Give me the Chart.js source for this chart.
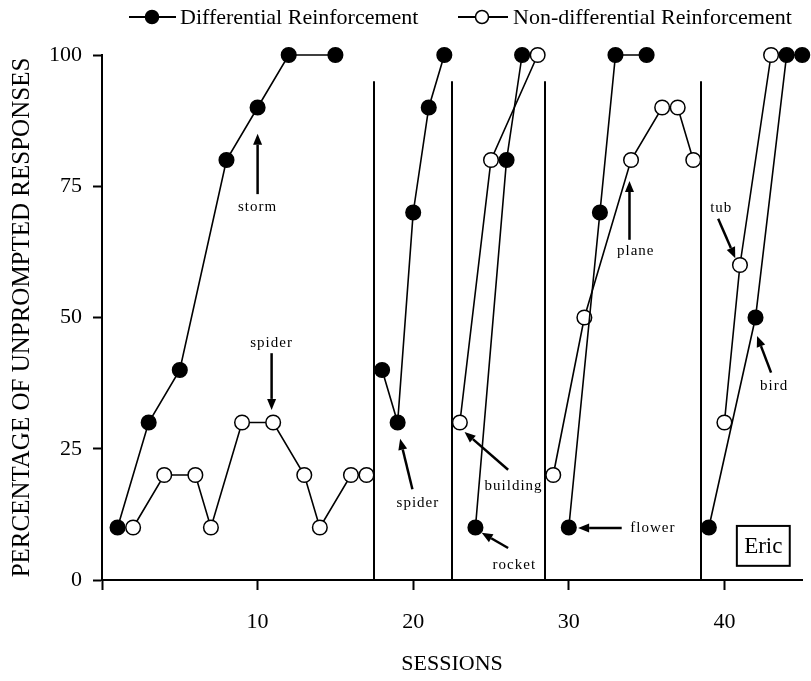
<!DOCTYPE html>
<html><head><meta charset="utf-8">
<script src="https://cdn.jsdelivr.net/npm/chart.js@4.4.1/dist/chart.umd.min.js"></script>
<style>html,body{margin:0;padding:0;background:#fff;}canvas{display:block;}</style>
</head><body>
<canvas id="c" width="811" height="681"></canvas>
<script>
// ---- data ----
const seriesNames = ['Differential Reinforcement', 'Non-differential Reinforcement'];
const diffSessions    = [1,3,5,8,10,12,15, 18,19,20,21,22, 24,26,27, 30,32,33,35, 39,42,44,45];
const diffValues      = [10,30,40,80,90,100,100, 40,30,70,90,100, 10,80,100, 10,70,100,100, 10,50,100,100];
const nonDiffSessions = [2,4,6,7,9,11,13,14,16,17, 23,25,28, 29,31,34,36,37,38, 40,41,43];
const nonDiffValues   = [10,20,20,10,30,30,20,10,20,20, 30,80,100, 20,50,80,90,90,80, 30,60,100];
const phaseBreaks = [17.5, 22.5, 28.5, 38.5];
const phaseLineTop = 95;
const xTickValues = [0,10,20,30,40];
const yTickValues = [0,25,50,75,100];
const xTitle = 'SESSIONS';
const yTitle = 'PERCENTAGE OF UNPROMPTED RESPONSES';
const participant = 'Eric';
// annotation labels with arrow (tail -> tip) in data units
const annotLabels = ['storm','spider','spider','building','rocket','flower','plane','tub','bird'];
const annotText   = [[10,71],[10.9,45.1],[20.3,14.7],[26.45,17.9],[26.5,2.9],[35.4,9.9],[34.3,62.7],[39.8,70.9],[43.2,37.0]];
const annotTail   = [[10,73.5],[10.9,43.2],[19.95,17.3],[26.1,21],[26.1,6.1],[33.4,9.9],[33.9,64.8],[39.6,68.8],[43.0,39.5]];
const annotTip    = [[10,85],[10.9,32.4],[19.16,26.9],[23.3,28.2],[24.4,9],[30.6,9.9],[33.9,76],[40.7,61.3],[42.1,46.5]];

const FONT = 'Liberation Serif';
Chart.defaults.font.family = FONT;
Chart.defaults.color = '#000';

function buildSeries(sessions, values) {
  const out = [];
  for (let i = 0; i < sessions.length; i++) {
    if (i > 0) {
      const b = phaseBreaks.find(p => p > sessions[i-1] && p < sessions[i]);
      if (b !== undefined) out.push({x: b, y: null});
    }
    out.push({x: sessions[i], y: values[i]});
  }
  return out;
}

function arrow(ctx, x1, y1, x2, y2) {
  const ang = Math.atan2(y2 - y1, x2 - x1);
  const hl = 11, hw = 4.5;
  const bx = x2 - hl * Math.cos(ang), by = y2 - hl * Math.sin(ang);
  ctx.beginPath();
  ctx.moveTo(x1, y1); ctx.lineTo(bx, by);
  ctx.lineWidth = 2.5; ctx.strokeStyle = '#000'; ctx.stroke();
  ctx.beginPath();
  ctx.moveTo(x2, y2);
  ctx.lineTo(bx + hw * Math.sin(ang), by - hw * Math.cos(ang));
  ctx.lineTo(bx - hw * Math.sin(ang), by + hw * Math.cos(ang));
  ctx.closePath(); ctx.fillStyle = '#000'; ctx.fill();
}

const decorPlugin = {
  id: 'decor',
  beforeDatasetsDraw(chart) {
    const {ctx, scales: {x, y}} = chart;
    ctx.save();
    ctx.strokeStyle = '#000'; ctx.lineWidth = 2;
    phaseBreaks.forEach(b => {
      const px = Math.round(x.getPixelForValue(b));
      ctx.beginPath();
      ctx.moveTo(px, y.getPixelForValue(0));
      ctx.lineTo(px, y.getPixelForValue(phaseLineTop));
      ctx.stroke();
    });
    ctx.restore();
  },
  afterDatasetsDraw(chart) {
    const {ctx, scales: {x, y}} = chart;
    ctx.save();
    annotLabels.forEach((lab, i) => {
      arrow(ctx, x.getPixelForValue(annotTail[i][0]), y.getPixelForValue(annotTail[i][1]),
                 x.getPixelForValue(annotTip[i][0]), y.getPixelForValue(annotTip[i][1]));
      ctx.font = '15px "' + FONT + '"';
      ctx.letterSpacing = '1px';
      ctx.fillStyle = '#000';
      ctx.textAlign = 'center'; ctx.textBaseline = 'middle';
      ctx.fillText(lab, x.getPixelForValue(annotText[i][0]), y.getPixelForValue(annotText[i][1]));
    });
    ctx.letterSpacing = '0px';
    // participant box
    const bx1 = x.getPixelForValue(40.8), bx2 = x.getPixelForValue(44.2);
    const by1 = y.getPixelForValue(10.3), by2 = y.getPixelForValue(2.7);
    ctx.lineWidth = 2; ctx.strokeStyle = '#000';
    ctx.strokeRect(bx1, by1, bx2 - bx1, by2 - by1);
    ctx.font = '23px "' + FONT + '"';
    ctx.textAlign = 'center'; ctx.textBaseline = 'middle';
    ctx.fillText(participant, (bx1 + bx2) / 2, (by1 + by2) / 2 + 1);
    ctx.restore();
  },
  afterDraw(chart) {
    const {ctx} = chart;
    ctx.save();
    const items = [
      {x1: 129, x2: 176, cx: 152, tx: 180, fill: '#000'},
      {x1: 458, x2: 508, cx: 482, tx: 513, fill: '#fff'}
    ];
    items.forEach((it, i) => {
      const yy = 17;
      ctx.beginPath(); ctx.moveTo(it.x1, yy); ctx.lineTo(it.x2, yy);
      ctx.lineWidth = 2; ctx.strokeStyle = '#000'; ctx.stroke();
      ctx.beginPath(); ctx.arc(it.cx, yy, 6.5, 0, Math.PI * 2);
      ctx.fillStyle = it.fill; ctx.fill(); ctx.lineWidth = 1.5; ctx.stroke();
      ctx.font = '22px "' + FONT + '"';
      ctx.fillStyle = '#000'; ctx.textAlign = 'left'; ctx.textBaseline = 'middle';
      ctx.fillText(seriesNames[i], it.tx, yy + 1);
    });
    ctx.restore();
  }
};

new Chart(document.getElementById('c'), {
  type: 'line',
  data: {
    datasets: [
      {
        label: seriesNames[0],
        data: buildSeries(diffSessions, diffValues),
        borderColor: '#000', borderWidth: 1.6,
        pointBackgroundColor: '#000', pointBorderColor: '#000', pointBorderWidth: 1.5,
        pointRadius: 7.3, spanGaps: false, clip: false, tension: 0
      },
      {
        label: seriesNames[1],
        data: buildSeries(nonDiffSessions, nonDiffValues),
        borderColor: '#000', borderWidth: 1.6,
        pointBackgroundColor: '#fff', pointBorderColor: '#000', pointBorderWidth: 1.5,
        pointRadius: 7.3, spanGaps: false, clip: false, tension: 0
      }
    ]
  },
  options: {
    responsive: false,
    animation: false,
    layout: {padding: {left: 0, right: 6, top: 55, bottom: 0}},
    plugins: {legend: {display: false}, tooltip: {enabled: false}},
    scales: {
      x: {
        type: 'linear', min: 0, max: 45,
        afterFit(s) { s.height = 101; },
        afterBuildTicks(s) { s.ticks = xTickValues.map(v => ({value: v})); },
        ticks: {
          padding: 19, font: {size: 22, family: FONT}, color: '#000',
          callback: v => (v === 0 ? '' : String(v)), maxRotation: 0, autoSkip: false
        },
        grid: {drawOnChartArea: false, drawTicks: true, tickLength: 10, tickWidth: 2, tickColor: '#000'},
        border: {display: true, width: 2, color: '#000'},
        title: {display: true, text: xTitle, font: {size: 22, family: FONT}, color: '#000', padding: {top: 0, bottom: 4}}
      },
      y: {
        min: 0, max: 100,
        afterFit(s) { s.width = 102; },
        afterBuildTicks(s) { s.ticks = yTickValues.map(v => ({value: v})); },
        ticks: {padding: 11, font: {size: 22, family: FONT}, color: '#000', autoSkip: false},
        grid: {drawOnChartArea: false, drawTicks: true, tickLength: 9, tickWidth: 2, tickColor: '#000'},
        border: {display: true, width: 2, color: '#000'},
        title: {display: true, text: yTitle, font: {size: 25, family: FONT}, color: '#000', padding: {top: 7, bottom: 0}}
      }
    }
  },
  plugins: [decorPlugin]
});
</script>
</body></html>
